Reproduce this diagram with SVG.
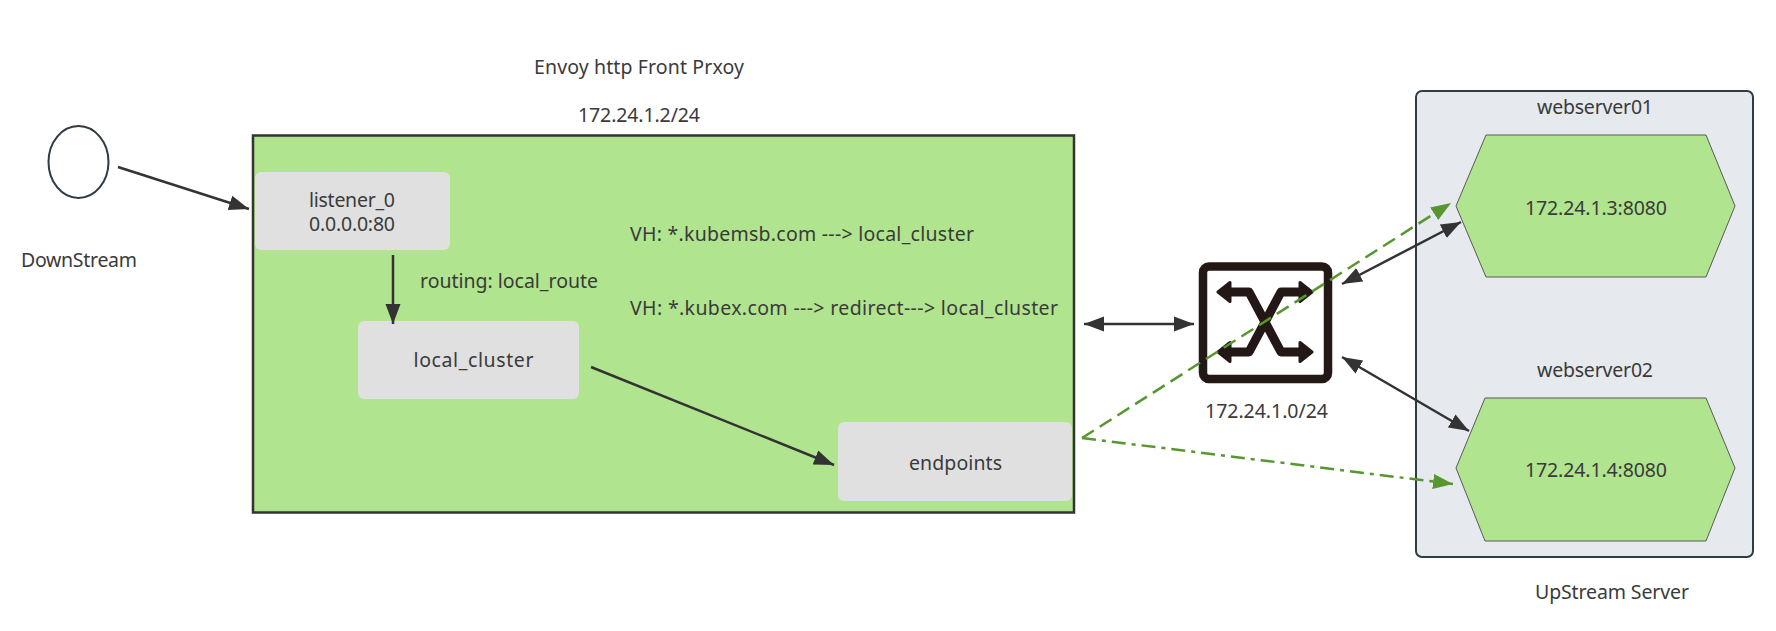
<svg xmlns="http://www.w3.org/2000/svg" width="1776" height="631" viewBox="0 0 1776 631">
<style>
text{font-family:"Noto Sans","Open Sans","Liberation Sans",sans-serif;font-size:19.500px;fill:#3a3a3a;text-anchor:middle}
.l{text-anchor:start}
.gray{fill:#e0e0e0}
.hex{fill:#b0e48f;stroke:#5a5a5a;stroke-width:1}
.c{fill:none;stroke:#333;stroke-width:2.500}
.g{fill:none;stroke:#58962f;stroke-width:2.500}
</style>
<defs>
<marker id="a" markerUnits="userSpaceOnUse" markerWidth="21" markerHeight="16" refX="20" refY="8" orient="auto-start-reverse"><path d="M0 0.500L20 8L0 15.500z" fill="#333"/></marker>
<marker id="b" markerUnits="userSpaceOnUse" markerWidth="21" markerHeight="16" refX="20" refY="8" orient="auto"><path d="M0 0.500L20 8L0 15.500z" fill="#58962f"/></marker>
</defs>
<rect width="1776" height="631" fill="#fff"/>
<g id="downstream"><ellipse cx="78.500" cy="162" rx="30" ry="36" fill="#fff" stroke="#2f3b45" stroke-width="2"/><text x="79" y="267" textLength="116">DownStream</text></g>
<g id="title"><text x="639" y="74" textLength="210">Envoy http Front Prxoy</text><text x="639" y="122" textLength="122">172.24.1.2/24</text></g>
<g id="proxy"><rect x="253" y="135.500" width="821" height="377" fill="#b0e48f" stroke="#333" stroke-width="2.500"/>
<text class="l" x="630" y="241" textLength="344">VH: *.kubemsb.com ---&gt; local_cluster</text>
<text class="l" x="630" y="315" textLength="428">VH: *.kubex.com ---&gt; redirect---&gt; local_cluster</text>
<text class="l" x="420" y="288" textLength="178">routing: local_route</text></g>
<g id="listener"><rect class="gray" x="255" y="172" width="195" height="78" rx="6"/><text x="352" y="207" textLength="86">listener_0</text><text x="352" y="231" textLength="86">0.0.0.0:80</text></g>
<g id="local_cluster"><rect class="gray" x="358" y="321" width="221" height="78" rx="6"/><text x="473.500" y="367" textLength="120">local_cluster</text></g>
<g id="endpoints"><rect class="gray" x="838" y="422" width="234" height="79" rx="6"/><text x="955.500" y="470" textLength="93">endpoints</text></g>
<g id="upstream"><rect x="1416" y="91" width="337" height="466" rx="6" fill="#e6e9ed" stroke="#2f3b45" stroke-width="2"/><text x="1595" y="114" textLength="116">webserver01</text><text x="1595" y="377" textLength="116">webserver02</text><text x="1612" y="599" textLength="154">UpStream Server</text></g>
<g id="web1"><path class="hex" d="M1456 206L1486 135H1706L1735 206L1706 277H1486z"/><text x="1596" y="215" textLength="142">172.24.1.3:8080</text></g>
<g id="web2"><path class="hex" d="M1456 468L1485 398H1706L1735 468L1706 541H1485z"/><text x="1596" y="477" textLength="142">172.24.1.4:8080</text></g>
<g id="switch"><rect x="1203" y="266.500" width="125" height="112.500" rx="6" fill="#fff" stroke="#231815" stroke-width="8.500"/>
<path d="M1226 292H1249L1281 352H1306M1226 352H1249L1281 292H1306" fill="none" stroke="#231815" stroke-width="9" stroke-linejoin="round"/>
<path d="M1218 292L1230 282.500V301.500zM1312 292L1300 282.500V301.500zM1218 352L1230 342.500V361.500zM1312 352L1300 342.500V361.500z" fill="#231815" stroke="#231815" stroke-width="3" stroke-linejoin="round"/>
<text x="1266.500" y="418" textLength="123">172.24.1.0/24</text></g>
<g id="connectors">
<path class="c" d="M118 167L249 209" marker-end="url(#a)"/>
<path class="c" d="M393 255V324" marker-end="url(#a)"/>
<path class="c" d="M591 367L834 465" marker-end="url(#a)"/>
<path class="c" d="M1084 324H1194" marker-start="url(#a)" marker-end="url(#a)"/>
<path class="c" d="M1342 284L1461 222" marker-start="url(#a)" marker-end="url(#a)"/>
<path class="c" d="M1342 357L1469 431" marker-start="url(#a)" marker-end="url(#a)"/>
<path class="g" d="M1082 438L1451 203" stroke-dasharray="14 7" marker-end="url(#b)"/>
<path class="g" d="M1082 438L1453 484" stroke-dasharray="14 6 4 6" marker-end="url(#b)"/>
</g>
</svg>
